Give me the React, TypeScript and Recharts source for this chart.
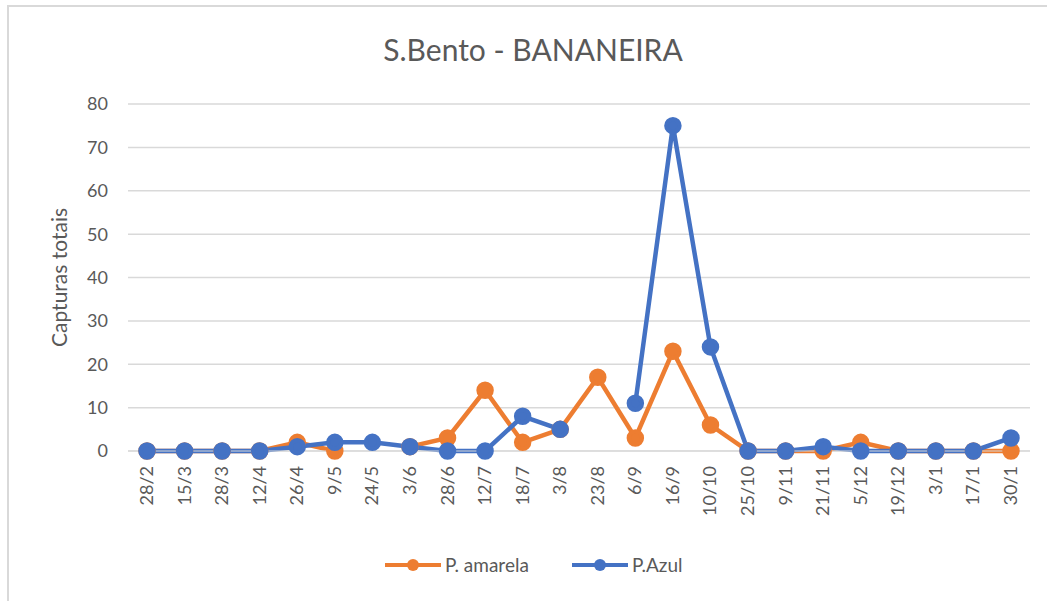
import { LineChart, Line, XAxis, YAxis, CartesianGrid, Label } from "recharts";

const dates = [
    "28/2", "15/3", "28/3", "12/4", "26/4", "9/5", "24/5", "3/6", "28/6", "12/7", "18/7", "3/8",
    "23/8", "6/9", "16/9", "10/10", "25/10", "9/11", "21/11", "5/12", "19/12", "3/1", "17/1", "30/1",
];
const amarela = [0, 0, 0, 0, 2, 0, null, 1, 3, 14, 2, 5, 17, 3, 23, 6, 0, 0, 0, 2, 0, 0, 0, 0];
const azul = [0, 0, 0, 0, 1, 2, 2, 1, 0, 0, 8, 5, null, 11, 75, 24, 0, 0, 1, 0, 0, 0, 0, 3];
const yTicks = [0, 10, 20, 30, 40, 50, 60, 70, 80];

const ORANGE = "#ED7D31";
const BLUE = "#4472C4";
const TEXT = "#595959";
const FONT = "Lato, 'Open Sans', sans-serif";

const data = dates.map((d, i) => ({ date: d, amarela: amarela[i], azul: azul[i] }));

function XTick({ x, y, payload }: any) {
    return (
        <text x={x} y={y} transform={`rotate(-90, ${x}, ${y})`} dx={-7} dy={6}
            textAnchor="end" fill={TEXT} fontSize={18} fontFamily={FONT}>
            {payload.value}
        </text>
    );
}

function LegendItem({ x, color, label }: { x: number; color: string; label: string }) {
    return (
        <g>
            <line x1={x} y1={565} x2={x + 56} y2={565} stroke={color} strokeWidth={4} />
            <circle cx={x + 28} cy={565} r={6} fill={color} />
            <text x={x + 60} y={572} fill={TEXT} fontSize={19} fontFamily={FONT}>{label}</text>
        </g>
    );
}

export default function App() {
    return (
        <div style={{ position: "absolute", left: 0, top: 0, width: 1047, height: 601, background: "#fff" }}>
            <div style={{
                position: "absolute", left: 7, top: 5, width: 1060, height: 620,
                borderLeft: "2px solid #d9d9d9", borderTop: "2px solid #d9d9d9",
            }} />
            <LineChart width={1047} height={601} data={data}
                margin={{ top: 104, right: 17, left: 0, bottom: 0 }}>
                <text x={533} y={61} textAnchor="middle" fill={TEXT} fontSize={30} fontFamily={FONT}>
                    S.Bento - BANANEIRA
                </text>
                <CartesianGrid vertical={false} stroke="#d9d9d9" strokeWidth={1.5} />
                <XAxis dataKey="date" interval={0} tickLine={false} stroke="#d9d9d9"
                    padding={{ left: 19, right: 19 }} tick={<XTick />} height={150} />
                <YAxis domain={[0, 80]} ticks={yTicks} interval={0} width={128} axisLine={false}
                    tickLine={false} tick={{ fill: TEXT, fontSize: 18, fontFamily: FONT }} tickMargin={14}>
                    <Label value="Capturas totais" angle={-90} position="insideLeft" offset={60}
                        style={{ textAnchor: "middle", fill: TEXT, fontSize: 21, fontFamily: FONT }} />
                </YAxis>
                <Line dataKey="amarela" name="P. amarela" stroke={ORANGE} strokeWidth={4.5}
                    dot={{ r: 6.5, fill: ORANGE, stroke: ORANGE }} isAnimationActive={false} />
                <Line dataKey="azul" name="P.Azul" stroke={BLUE} strokeWidth={4.5}
                    dot={{ r: 6.5, fill: BLUE, stroke: BLUE }} isAnimationActive={false} />
                <LegendItem x={385} color={ORANGE} label="P. amarela" />
                <LegendItem x={572} color={BLUE} label="P.Azul" />
            </LineChart>
        </div>
    );
}
